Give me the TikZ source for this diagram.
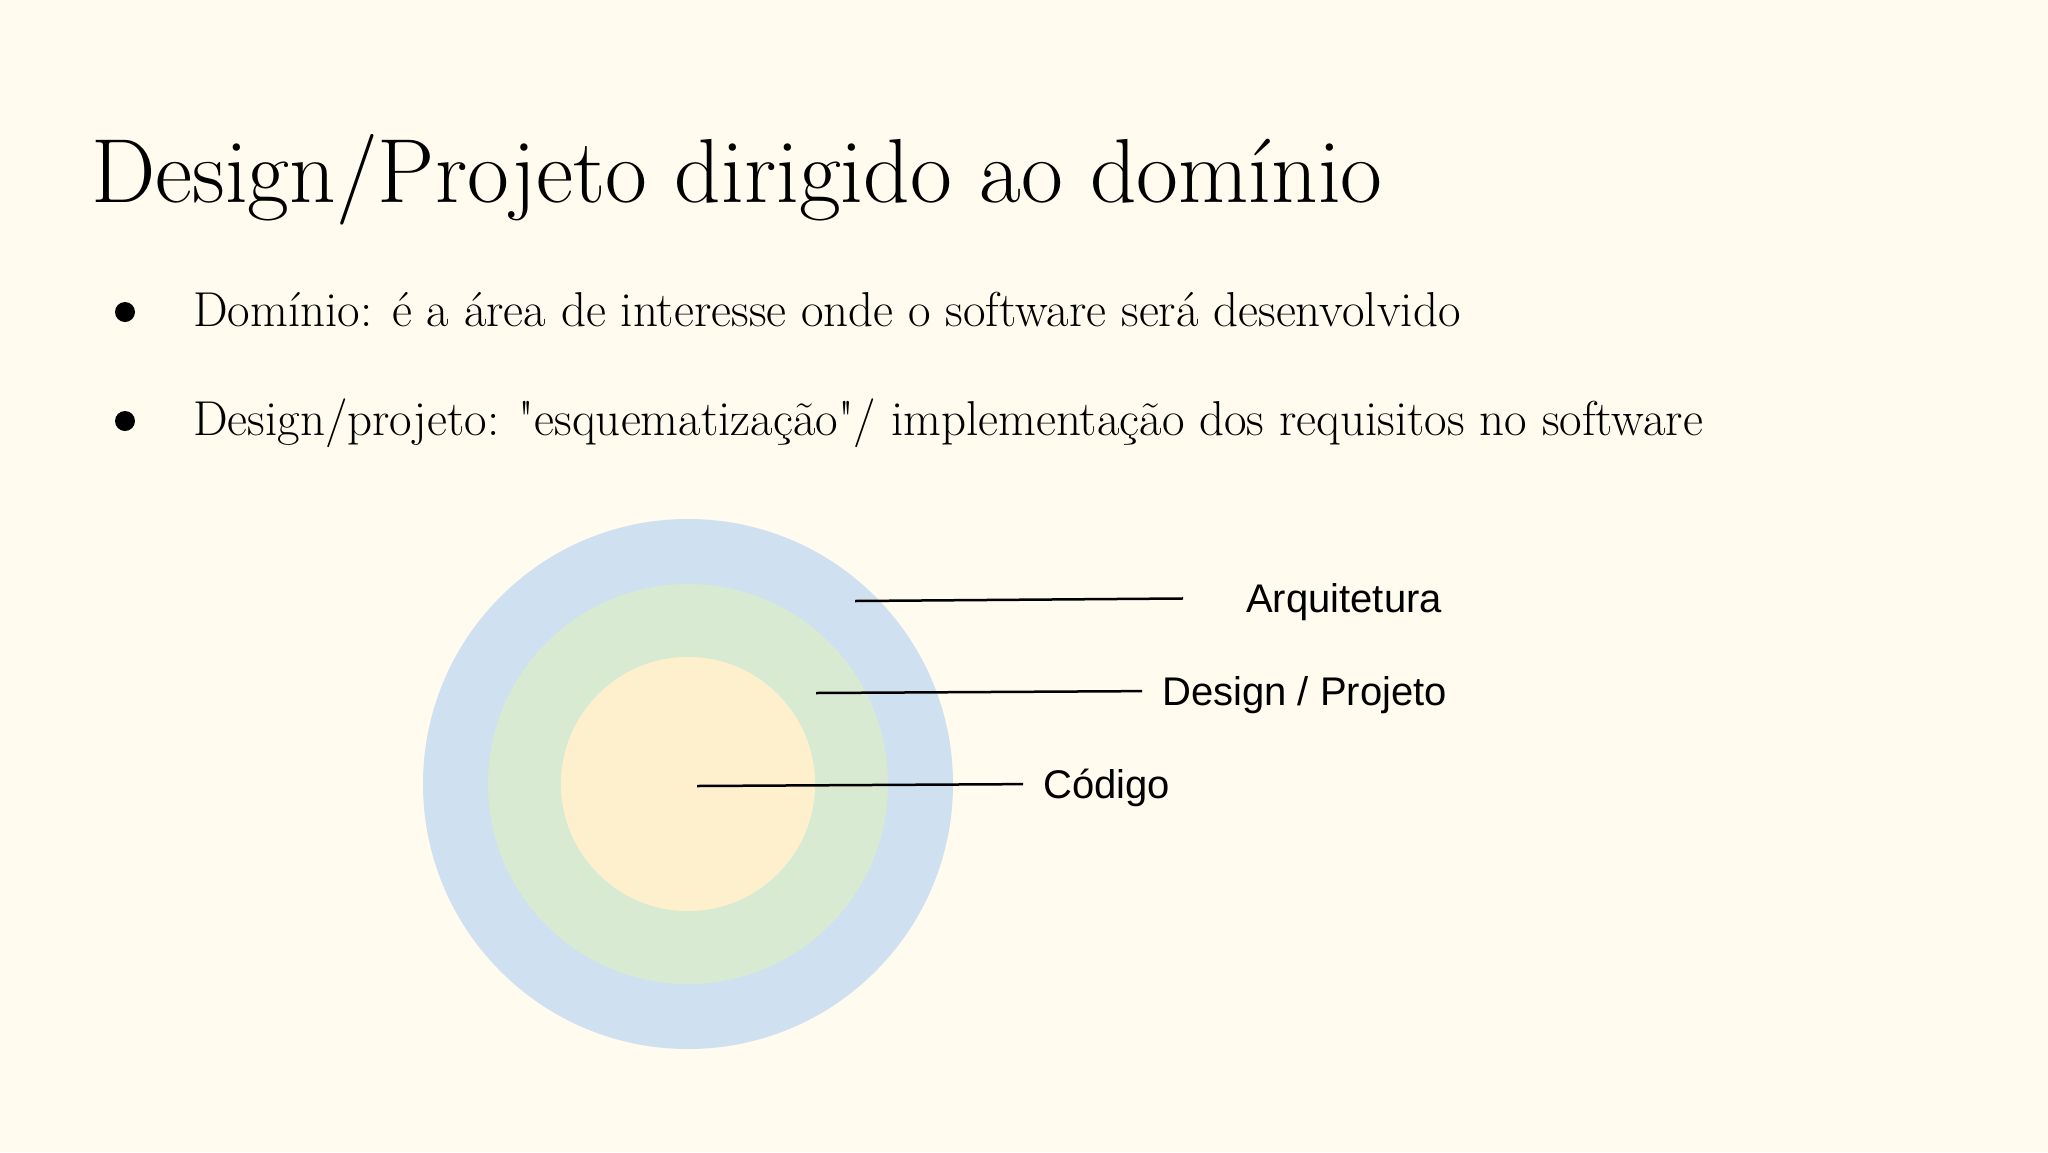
\documentclass[tikz,border=0pt]{standalone}
\usepackage{fontspec}
\setmainfont{Latin Modern Roman}[Ligatures=TeXOff]
\newfontfamily\labelfont{Liberation Sans}
\usetikzlibrary{positioning}
\definecolor{slidebg}{HTML}{FFFBEE}
\definecolor{layerblue}{HTML}{CFE0F1}
\definecolor{layergreen}{HTML}{D9EAD3}
\definecolor{layeryellow}{HTML}{FEF0CC}
\tikzset{
    layer/.style={circle, inner sep=0, draw=none},
    leader/.style={draw=black, line width=2.5pt},
    layerlabel/.style={anchor=west, inner sep=0, text height=29pt, text depth=0pt, font=\labelfont\fontsize{40}{48}\selectfont},
    bulletdot/.style={circle, fill=black, inner sep=0, minimum size=20pt},
    bullettext/.style={anchor=base west, inner sep=0, font=\fontsize{49}{58}\selectfont},
}
\newcommand{\drawlayer}[3]{
    \node [layer, fill=#3, minimum size=#2] (#1) at (centre) {};
}

\begin{document}
\begin{tikzpicture}[x=1pt, y=-1pt]
    \fill [slidebg] (0,0) rectangle (2048,1152);
    \useasboundingbox (0,0) rectangle (2048,1152);

    \node [anchor=base west, inner sep=0, font=\fontsize{91}{106}\selectfont] (title) at (91,202) {Design/Projeto dirigido ao domínio};

    \node [bulletdot] (dotA) at (125,312) {};
    \node [bullettext] (itemA) at (193,326) {Domínio: é a área de interesse onde o software será desenvolvido};
    \node [bulletdot] (dotB) at (125,421) {};
    \node [bullettext] (itemB) at (193,435) {Design/projeto: "esquematização"/ implementação dos requisitos no software};

    \coordinate (centre) at (688,784);
    \drawlayer{arquitetura}{530pt}{layerblue};
    \drawlayer{design}{400pt}{layergreen};
    \drawlayer{codigo}{254pt}{layeryellow};

    \node [layerlabel] (arq) at (1246,598) {Arquitetura};
    \node [layerlabel] (proj) at (1162,691) {Design / Projeto};
    \node [layerlabel] (cod) at (1043,784) {Código};

    \coordinate (arqin) at (855,601);
    \coordinate (projin) at (816,693);
    \coordinate (codin) at (697,786);
    \draw [leader, shorten >=63pt] (arqin) -- (arq.west);
    \draw [leader, shorten >=20pt] (projin) -- (proj.west);
    \draw [leader, shorten >=20pt] (codin) -- (cod.west);
\end{tikzpicture}
\end{document}
